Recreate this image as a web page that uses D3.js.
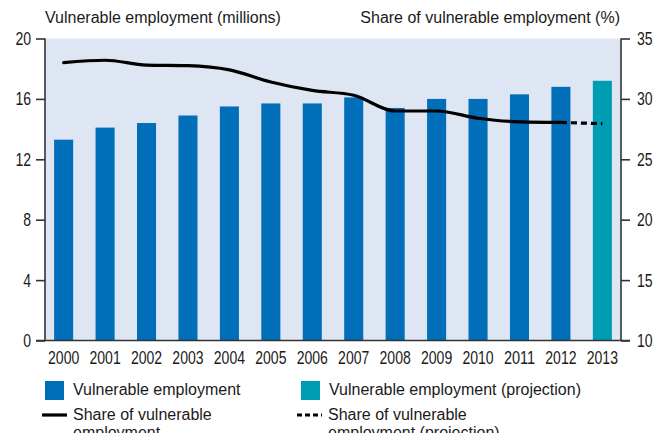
<!DOCTYPE html>
<html>
<head>
<meta charset="utf-8">
<script src="https://cdn.jsdelivr.net/npm/d3@7"></script>
<style>
  body { margin: 0; background: #fff; overflow: hidden; }
  text { font-family: "Liberation Sans", Arial, sans-serif; fill: #1a1a1a; }
</style>
</head>
<body>
<div id="chart"></div>
<script>
var years = ["2000","2001","2002","2003","2004","2005","2006","2007","2008","2009","2010","2011","2012","2013"]
// millions, 2013 is projection
var employment = [13.3, 14.1, 14.4, 14.9, 15.5, 15.7, 15.7, 16.1, 15.4, 16.0, 16.0, 16.3, 16.8, 17.2]
var projected = [false,false,false,false,false,false,false,false,false,false,false,false,false,true]
// share in %
var share = [33.0, 33.2, 32.8, 32.75, 32.4, 31.4, 30.7, 30.3, 29.0, 29.0, 28.4, 28.1, 28.05, 27.95]
var leftTicks = [0, 4, 8, 12, 16, 20]
var rightTicks = [10, 15, 20, 25, 30, 35]

var width = 667, height = 433
var margin = {top: 38.5, left: 45, right: 621, bottom: 340.5}

var svg = d3.select("#chart").append("svg")
    .attr("width", width)
    .attr("height", height)

var x = d3.scaleBand()
    .domain(years)
    .range([margin.left, margin.right])
    .paddingInner(0.54)
    .paddingOuter(0.22)

var y = d3.scaleLinear().domain([0, 20]).range([margin.bottom, margin.top])
var y2 = d3.scaleLinear().domain([10, 35]).range([margin.bottom, margin.top])

// plot background
svg.append("rect")
    .attr("x", margin.left)
    .attr("y", margin.top)
    .attr("width", margin.right - margin.left)
    .attr("height", margin.bottom - margin.top)
    .attr("fill", "#dfe6f3")

// bars
svg.selectAll(".bar")
    .data(employment)
    .enter().append("rect")
    .attr("class", "bar")
    .attr("x", function (d, i) { return x(years[i]) })
    .attr("width", x.bandwidth())
    .attr("y", function (d) { return y(d) })
    .attr("height", function (d) { return y(0) - y(d) })
    .attr("fill", function (d, i) { return projected[i] ? "#009cb2" : "#006eb8" })

// share line: solid up to 2012, dashed to 2013
var pts = share.map(function (d, i) { return {year: years[i], v: d, proj: projected[i]} })
var line = d3.line()
    .x(function (d) { return x(d.year) + x.bandwidth() / 2 })
    .y(function (d) { return y2(d.v) })
    .curve(d3.curveMonotoneX)

var lastActual = pts.filter(function (d) { return !d.proj })
svg.append("path")
    .datum(lastActual)
    .attr("d", line)
    .attr("fill", "none")
    .attr("stroke", "#000")
    .attr("stroke-width", 3.2)
    .attr("stroke-linecap", "round")

svg.append("path")
    .datum(pts.slice(lastActual.length - 1))
    .attr("d", line)
    .attr("fill", "none")
    .attr("stroke", "#000")
    .attr("stroke-width", 3.2)
    .attr("stroke-dasharray", "6,4")

// axes
var axisColor = "#333"
var leftAxis = svg.append("g")
    .attr("transform", "translate(" + margin.left + ",0)")
    .call(d3.axisLeft(y).tickValues(leftTicks).tickSize(9).tickPadding(5))
var rightAxis = svg.append("g")
    .attr("transform", "translate(" + margin.right + ",0)")
    .call(d3.axisRight(y2).tickValues(rightTicks).tickSize(9).tickPadding(7))
var bottomAxis = svg.append("g")
    .attr("transform", "translate(0," + margin.bottom + ")")
    .call(d3.axisBottom(x).tickSize(0).tickPadding(8))

;[leftAxis, rightAxis, bottomAxis].forEach(function (g) {
    g.attr("font-size", null).attr("font-family", null)
    g.selectAll("path, line").attr("stroke", axisColor).attr("stroke-width", 1.6)
    // condensed look for tick numbers
    g.selectAll("text")
        .attr("fill", "#111")
        .style("font-size", "19px")
        .attr("lengthAdjust", "spacingAndGlyphs")
        .attr("textLength", function () { return this.textContent.length * 7.8 })
})
leftAxis.select(".domain").attr("d", "M0," + margin.top + "V" + margin.bottom)
rightAxis.select(".domain").attr("d", "M0," + margin.top + "V" + margin.bottom)
bottomAxis.select(".domain").attr("d", "M" + (margin.left - 9) + ",0H" + (margin.right + 9))
bottomAxis.selectAll("text").attr("dy", "0.8em")

// titles
svg.append("text")
    .attr("x", 45).attr("y", 23)
    .style("font-size", "16px")
    .text("Vulnerable employment (millions)")
svg.append("text")
    .attr("x", 620).attr("y", 23)
    .attr("text-anchor", "end")
    .style("font-size", "16px")
    .text("Share of vulnerable employment (%)")

// legend
var legend = svg.append("g").style("font-size", "16px")
var sw = [{x: 45, c: "#006eb8", t: "Vulnerable employment"},
          {x: 301, c: "#009cb2", t: "Vulnerable employment (projection)"}]
sw.forEach(function (s) {
    legend.append("rect").attr("x", s.x).attr("y", 381).attr("width", 19).attr("height", 19).attr("fill", s.c)
    legend.append("text").attr("x", s.x + 28).attr("y", 395).text(s.t)
})
var ln = [{x: 42, dash: null, t1: "Share of vulnerable", t2: "employment"},
          {x: 297, dash: "5,3", t1: "Share of vulnerable", t2: "employment (projection)"}]
ln.forEach(function (s) {
    legend.append("line")
        .attr("x1", s.x).attr("x2", s.x + 25)
        .attr("y1", 415).attr("y2", 415)
        .attr("stroke", "#000").attr("stroke-width", 3.2)
        .attr("stroke-dasharray", s.dash)
    legend.append("text").attr("x", s.x + 31).attr("y", 420).text(s.t1)
    legend.append("text").attr("x", s.x + 31).attr("y", 438).text(s.t2)
})
</script>
</body>
</html>
